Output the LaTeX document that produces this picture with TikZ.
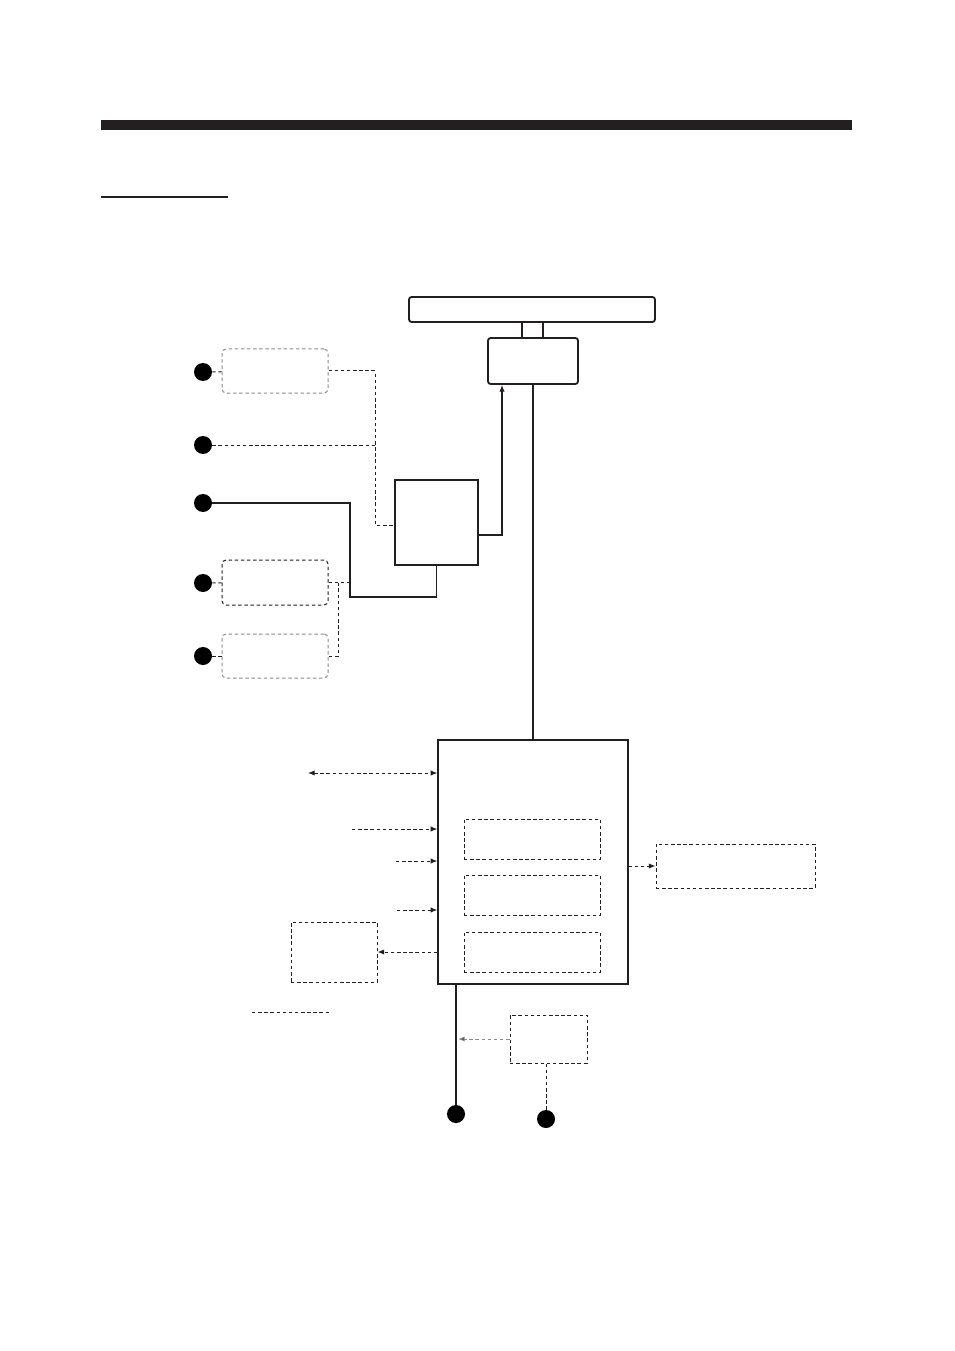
\documentclass[tikz,border=0pt]{standalone}
\usepackage{tikz}
\usetikzlibrary{positioning,arrows.meta,calc}
\definecolor{cLine}{HTML}{231F20}
\definecolor{cGrey}{HTML}{8A8A8A}
\tikzset{
  base/.style   ={draw=cLine, inner sep=0pt, line width=0.85pt},
  unitbox/.style={base, rounded corners=2pt, line width=1.4pt},
  procbox/.style={base},
  mainbox/.style={base, line width=1pt},
  optbox/.style ={base, dashed, line width=0.75pt, dash pattern=on 2.6pt off 2pt},
  optrnd/.style ={optbox, rounded corners=3pt, draw=cGrey},
  dotnd/.style  ={circle, fill=black, inner sep=0pt, minimum size=13.5pt},
  ln/.style     ={draw=cLine, line width=0.85pt},
  dsh/.style    ={draw=cLine, line width=0.75pt, dash pattern=on 2.6pt off 2pt},
  arr/.style    ={-{Latex[length=5pt,width=4pt]}},
  arrb/.style   ={{Latex[length=5pt,width=4pt]}-{Latex[length=5pt,width=4pt]}},
}

\begin{document}
\begin{tikzpicture}[x=0.75pt, y=-0.75pt]
\useasboundingbox (0,0) rectangle (954,1351);

% heading rule
\fill[cLine] (101,120) rectangle (852,130);
\draw[cLine, line width=1pt] (101,197) -- (228,197);

% antenna and sensors
\node[unitbox, minimum width=184.5pt, minimum height=18.75pt] (antenna) at (532,309.5) {};
\node[unitbox, minimum width=67.5pt, minimum height=34.5pt] (pedl) at (533,361) {};
\coordinate (stemA) at (522,0);
\coordinate (stemB) at (543,0);
\draw[ln, line width=1.4pt] (antenna.south -| stemA) -- (pedl.north -| stemA);
\draw[ln, line width=1.4pt] (antenna.south -| stemB) -- (pedl.north -| stemB);

\node[optrnd, minimum width=79.5pt, minimum height=33pt] (opt1) at (275,371) {};
\node[optrnd, draw=cLine, minimum width=79.5pt, minimum height=33.75pt] (opt4) at (275,582.5) {};
\node[optrnd, minimum width=79.5pt, minimum height=33pt] (opt5) at (275,656) {};
\node[procbox, minimum width=62.25pt, minimum height=63.75pt] (proc) at (436.5,522.5) {};

\node[dotnd] (dot1) at (203,372) {};
\node[dotnd] (dot2) at (203,445) {};
\node[dotnd] (dot3) at (203,503) {};
\node[dotnd] (dot4) at (203,583) {};
\node[dotnd] (dot5) at (203,656) {};

\coordinate (jA) at (375,525);
\coordinate (jB) at (350,597);
\coordinate (jC) at (338,583);
\coordinate (jD) at (502,535);

\draw[dsh] (dot1) -- (opt1);
\draw[dsh] (opt1.east) -| (jA) -- (jA -| proc.west);
\draw[dsh] (dot2) -- (dot2 -| jA);
\draw[ln] (dot3) -| (jB) -| (proc.south);
\draw[dsh] (dot4) -- (opt4);
\draw[dsh] (dot5) -- (opt5);
\draw[dsh] (opt4.east) -- (opt4.east -| jB);
\draw[dsh] (opt5.east) -| (jC);
\draw[ln, arr] (jD -| proc.east) -- (jD) -- (jD |- pedl.south);

% display unit
\node[mainbox, minimum width=142.5pt, minimum height=183pt] (main) at (533,862) {};
\node[optbox, minimum width=102pt, minimum height=30pt] (inA) at (532,839) {};
\node[optbox, minimum width=102pt, minimum height=30pt] (inB) at (532,895) {};
\node[optbox, minimum width=102pt, minimum height=30pt] (inC) at (532,952) {};
\node[optbox, minimum width=119.25pt, minimum height=33pt] (ext) at (735.5,866) {};
\node[optbox, minimum width=64.5pt, minimum height=45pt] (lbox) at (334,952) {};

\draw[ln] (pedl.south) -- (main.north);

\coordinate (in1) at (308,773);
\coordinate (in2) at (352,829);
\coordinate (in3) at (396,861);
\coordinate (in4) at (397,910);
\draw[dsh, arrb] (in1) -- (in1 -| main.west);
\draw[dsh, arr] (in2) -- (in2 -| main.west);
\draw[dsh, arr] (in3) -- (in3 -| main.west);
\draw[dsh, arr] (in4) -- (in4 -| main.west);
\draw[dsh, arr] (lbox.east -| main.west) -- (lbox.east);
\draw[dsh, arr] (ext.west -| main.east) -- (ext.west);

\coordinate (lgA) at (252,1012);
\coordinate (lgB) at (331,1012);
\draw[dsh] (lgA) -- (lgB);

% power and sensor below
\node[optbox, minimum width=57.75pt, minimum height=36pt] (sens) at (548.5,1039) {};
\node[dotnd] (dot6) at (456,1114) {};
\node[dotnd] (dot7) at (546,1119) {};
\draw[ln] (dot6 |- main.south) -- (dot6);
\draw[dsh, draw=cGrey, arr, -{Latex[length=5pt,width=4pt,fill=cLine]}] (sens.west) -- ($(sens.west -| dot6)+(2,0)$);
\draw[dsh] (dot7 |- sens.south) -- (dot7);
\end{tikzpicture}
\end{document}
